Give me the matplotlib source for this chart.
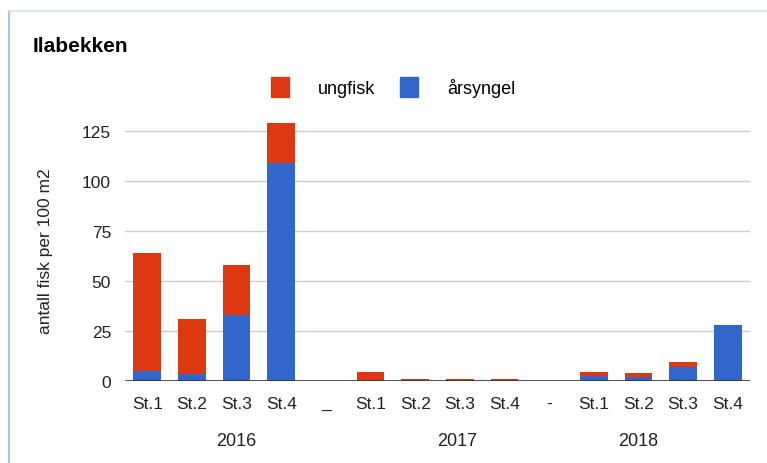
import matplotlib.pyplot as plt
import numpy as np
from matplotlib.lines import Line2D
from matplotlib.patches import Rectangle

plt.rcParams['font.family'] = ['Liberation Sans', 'DejaVu Sans']

labels = ['St.1', 'St.2', 'St.3', 'St.4', '_',
          'St.1', 'St.2', 'St.3', 'St.4', '-',
          'St.1', 'St.2', 'St.3', 'St.4']
aarsyngel = [5, 3.5, 33, 109, 0, 0, 0, 0, 0, 0, 2.7, 1.8, 7, 28]
ungfisk = [59, 27.5, 25, 20, 0, 4.7, 1, 1, 1, 0, 2, 2, 2.7, 0]
years = ['2016', '2017', '2018']
year_pos = [2.0, 6.95, 11.0]

red = '#dc3912'
blue = '#3366cc'

fig = plt.figure(figsize=(7.67, 4.64), dpi=100)
ax = fig.add_axes([125 / 767, 1 - 382 / 464, 625 / 767, 262 / 464])

x = np.arange(len(labels))
ax.bar(x, aarsyngel, width=0.62, color=blue, zorder=3)
ax.bar(x, ungfisk, width=0.62, bottom=aarsyngel, color=red, zorder=3)

ax.set_xlim(-0.5, len(labels) - 0.5)
ax.set_ylim(0, 131)
ax.set_yticks([0, 25, 50, 75, 100, 125])
ax.yaxis.grid(True, color='#cccccc', linewidth=1, zorder=0)
ax.axhline(0, color='#333333', linewidth=1.2, zorder=4)
for s in ax.spines.values():
    s.set_visible(False)
ax.tick_params(axis='y', length=0, labelsize=12.5, pad=10, labelcolor='#222222')
ax.tick_params(axis='x', length=0, labelsize=12.5, pad=11, labelcolor='#222222')
ax.set_xticks(x)
ax.set_xticklabels(labels)
ax.set_ylabel('antall fisk per 100 m2', fontsize=12.5, labelpad=21, color='#222222')

for yr, p in zip(years, year_pos):
    ax.text(p, -0.229, yr, transform=ax.get_xaxis_transform(), ha='center', va='center',
            fontsize=13, color='#222222')

fig.text(33 / 767, 1 - 47 / 464, 'Ilabekken', fontsize=15, fontweight='bold', va='center', ha='left')

handles = [Rectangle((0, 0), 1, 1, color=red), Rectangle((0, 0), 1, 1, color=blue)]
fig.legend(handles, ['ungfisk', 'årsyngel'], loc='center', bbox_to_anchor=(393 / 767, 1 - 88 / 464),
           ncol=2, frameon=False, fontsize=13, handlelength=1.0, handleheight=1.3,
           columnspacing=1.4, handletextpad=1.6)

fig.add_artist(Line2D([9 / 767, 9 / 767], [0, 1 - 12 / 464], transform=fig.transFigure,
                      color='#a9c4ee', linewidth=1.5))
fig.add_artist(Line2D([9 / 767, 1], [1 - 12 / 464, 1 - 12 / 464], transform=fig.transFigure,
                      color='#d3e2f7', linewidth=1.2))

fig.savefig('out.png', dpi=100)
